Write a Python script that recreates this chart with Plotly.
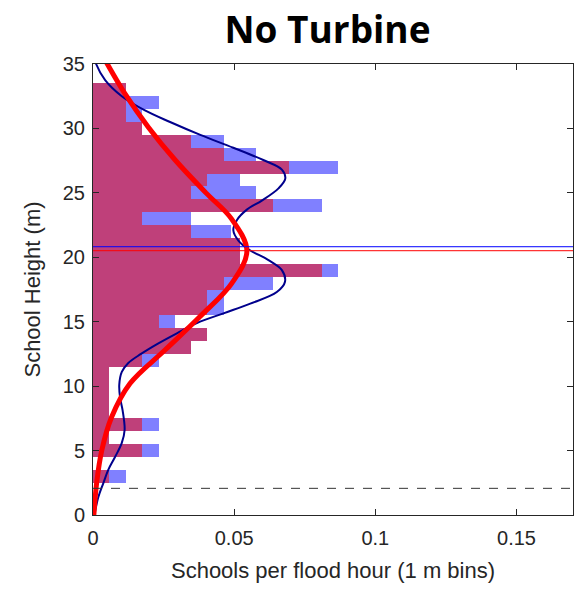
import plotly.graph_objects as go

# Histogram bins (1 m, centred on integers)
bin_centers = list(range(0, 34))
# No-turbine histogram (blue), schools per flood hour
blue_vals = [0, 0, 0, 0.0116, 0, 0.0232, 0.0058, 0.0232, 0.0058, 0.0058,
             0.0058, 0.0058, 0.0232, 0.0347, 0.0405, 0.0290, 0.0463, 0.0463,
             0.0637, 0.0869, 0.0521, 0.0521, 0.0490, 0.0347, 0.0811, 0.0579,
             0.0521, 0.0869, 0.0579, 0.0463, 0.0174, 0.0174, 0.0232, 0.0116]
# Overlaid histogram (red)
red_vals = [0, 0, 0, 0.0058, 0, 0.0174, 0.0058, 0.0174, 0.0058, 0.0058,
            0.0058, 0.0058, 0.0174, 0.0347, 0.0405, 0.0232, 0.0405, 0.0405,
            0.0463, 0.0811, 0.0521, 0.0521, 0.0347, 0.0174, 0.0637, 0.0347,
            0.0405, 0.0695, 0.0463, 0.0347, 0.0174, 0.0116, 0.0116, 0.0116]

# Blue density curve
blue_curve_y = [0, 1.4, 2.5, 3.5, 4.5, 5.6, 6.6, 8.1, 9.1, 10.1, 11.1, 11.8,
                12.5, 13.3, 14.1, 14.9, 15.65, 16.4, 17.3, 18.1, 19.0, 19.8,
                20.6, 21.3, 22.1, 22.9, 23.7, 24.4, 25.35, 26.1, 26.8, 27.55,
                28.5, 29.5, 30.5, 31.4, 32.5, 33.75, 35.0, 35.6]
blue_curve_x = [0.0005, 0.0019, 0.0037, 0.0054, 0.0078, 0.0102, 0.0112, 0.0105,
                0.0096, 0.0093, 0.0102, 0.0125, 0.0170, 0.0230, 0.0297, 0.0368,
                0.0462, 0.0557, 0.0651, 0.0680, 0.0669, 0.0620, 0.0552, 0.0515,
                0.0497, 0.0510, 0.0545, 0.0598, 0.0657, 0.0681, 0.0669, 0.0603,
                0.0497, 0.0380, 0.0273, 0.0184, 0.0102, 0.0043, 0.0011, 0.0004]

# Red fitted curve
red_curve_y = [0, 2.5, 5.0, 7.6, 10.2, 12.8, 15.4, 18.0, 20.5, 23.0, 25.0,
               27.55, 30.1, 32.7, 35.3]
red_curve_x = [0.0003, 0.0013, 0.0031, 0.0066, 0.0131, 0.0255, 0.0379, 0.0492,
               0.0545, 0.0490, 0.0400, 0.0291, 0.0196, 0.0113, 0.0043]

blue_mean = 20.82
red_mean = 20.51
ref_height = 2.07

x_ticks = [0, 0.05, 0.1, 0.15]
x_tick_labels = ["0", "0.05", "0.1", "0.15"]
y_ticks = [0, 5, 10, 15, 20, 25, 30, 35]

fig = go.Figure()
fig.add_trace(go.Bar(y=bin_centers, x=blue_vals, orientation="h", width=1,
                     marker=dict(color="rgb(128,128,255)", line=dict(width=0)),
                     showlegend=False, hoverinfo="skip"))
fig.add_trace(go.Bar(y=bin_centers, x=red_vals, orientation="h", width=1,
                     marker=dict(color="rgb(191,64,122)", line=dict(width=0)),
                     showlegend=False, hoverinfo="skip"))

fig.add_hline(y=ref_height, line=dict(color="#333333", width=1, dash="dash"))

fig.add_trace(go.Scatter(x=blue_curve_x, y=blue_curve_y, mode="lines",
                         line=dict(color="#00008C", width=2, shape="spline"),
                         showlegend=False, hoverinfo="skip"))
fig.add_trace(go.Scatter(x=red_curve_x, y=red_curve_y, mode="lines",
                         line=dict(color="#FF0000", width=5, shape="spline"),
                         showlegend=False, hoverinfo="skip"))

fig.add_hline(y=blue_mean, line=dict(color="#0000FF", width=1))
fig.add_hline(y=red_mean, line=dict(color="#FF0000", width=1))

axis_common = dict(showgrid=False, zeroline=False, showline=True,
                   linecolor="#262626", linewidth=1, mirror="ticks",
                   ticks="inside", ticklen=6, tickcolor="#262626",
                   tickfont=dict(family="Liberation Sans, Arial", size=20,
                                 color="#262626"))

fig.update_layout(
    width=577, height=590,
    margin=dict(l=93, r=4, t=64, b=75),
    paper_bgcolor="white", plot_bgcolor="white",
    barmode="overlay", bargap=0,
    title=dict(text="<b>No Turbine</b>", x=0.5676, xanchor="center",
               y=1 - 30 / 590, yanchor="middle",
               font=dict(family="Open Sans, Lato", size=37, color="black")),
    xaxis=dict(range=[0, 0.17], tickvals=x_ticks, ticktext=x_tick_labels,
               ticklabelstandoff=5,
               title=dict(text="Schools per flood hour (1 m bins)",
                          font=dict(family="Liberation Sans, Arial", size=22,
                                    color="#262626"), standoff=14),
               **axis_common),
    yaxis=dict(range=[0, 35], tickvals=y_ticks, ticklabelstandoff=3,
               title=dict(text="School Height (m)",
                          font=dict(family="Liberation Sans, Arial", size=22,
                                    color="#262626"), standoff=16),
               **axis_common),
)

fig.write_html("out.html",
               config={"displayModeBar": False},
               post_script="document.body.style.margin='0';")
